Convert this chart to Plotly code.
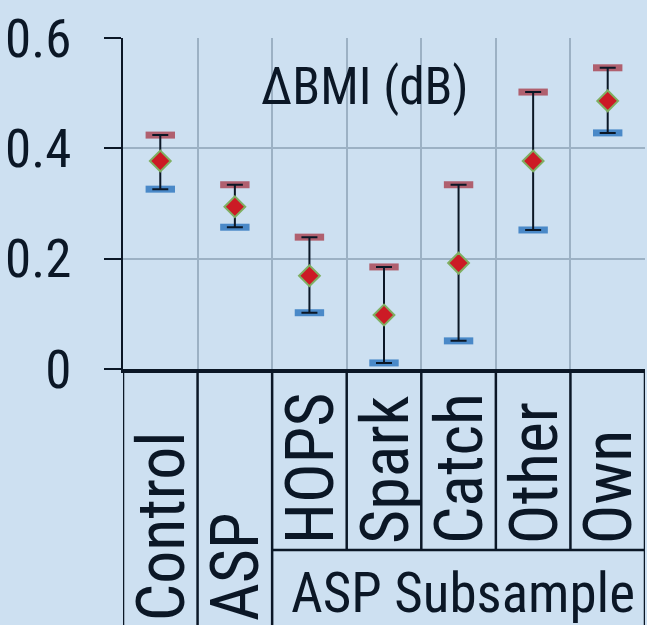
import plotly.graph_objects as go

categories = ["Control", "ASP", "HOPS", "Spark", "Catch", "Other", "Own"]
mean_vals = [0.377, 0.294, 0.169, 0.098, 0.192, 0.377, 0.486]
upper_vals = [0.424, 0.334, 0.239, 0.185, 0.334, 0.502, 0.546]
lower_vals = [0.326, 0.257, 0.102, 0.011, 0.051, 0.252, 0.428]
y_ticks = [0, 0.2, 0.4, 0.6]
y_tick_labels = ["0", "0.2", "0.4", "0.6"]
title_text = "ΔBMI (dB)"
group_label = "ASP Subsample"
n_main = 2  # Control, ASP not in subsample

BG = "#cde0f1"
DARK = "#0b1726"
GRID = "#9cb1c4"
FONT = "Liberation Sans Narrow, Arial Narrow, Roboto Condensed, Liberation Sans, sans-serif"

W, H = 647, 625
L, R, T, B = 123, 2, 38, 256
plot_h = H - T - B

def py(px):
    return (H - B - px) / plot_h

fig = go.Figure()

# cap background boxes
fig.add_trace(go.Scatter(
    x=categories, y=upper_vals, mode="markers",
    marker=dict(symbol="line-ew", size=21, line=dict(width=7, color="#b0606f")),
    hoverinfo="skip", showlegend=False))
fig.add_trace(go.Scatter(
    x=categories, y=lower_vals, mode="markers",
    marker=dict(symbol="line-ew", size=21, line=dict(width=7, color="#4a89c8")),
    hoverinfo="skip", showlegend=False))

# mean with error bars
fig.add_trace(go.Scatter(
    x=categories, y=mean_vals, mode="markers",
    error_y=dict(type="data", symmetric=False,
                 array=[u - m for u, m in zip(upper_vals, mean_vals)],
                 arrayminus=[m - l for m, l in zip(mean_vals, lower_vals)],
                 color=DARK, thickness=2, width=8),
    marker=dict(symbol="diamond", size=16, color="#cc1a25",
                line=dict(width=2, color="#7faf62")),
    showlegend=False))

shapes = []
# title background box over gridlines
shapes.append(dict(type="rect", xref="paper", yref="paper",
                   x0=(242 - L) / (W - L - R), x1=(490 - L) / (W - L - R),
                   y0=py(122), y1=py(40), fillcolor=BG, line=dict(width=0),
                   layer="between"))
# separators in the label area
n = len(categories)
for i in range(n + 1):
    xb = i - 0.5
    full = i <= n_main or i == n
    shapes.append(dict(type="line", xref="x", yref="paper",
                       x0=xb, x1=xb, y0=py(373), y1=py(625 if full else 550),
                       line=dict(color=DARK, width=2.5)))
shapes.append(dict(type="line", xref="x", yref="paper",
                   x0=n_main - 0.5, x1=n - 0.5, y0=py(550), y1=py(550),
                   line=dict(color=DARK, width=2.5)))

annotations = []
for i, c in enumerate(categories):
    bottom_px = 622 if i < n_main else 545
    annotations.append(dict(text=c, x=i, xref="x", y=py(bottom_px), yref="paper",
                            textangle=-90, xanchor="center", yanchor="bottom",
                            showarrow=False, xshift=1, borderpad=0,
                            font=dict(family=FONT, size=66, color=DARK)))
annotations.append(dict(text=group_label, xref="paper", x=(463 - L) / (W - L - R),
                        yref="paper", y=py(593), xanchor="center", yanchor="middle",
                        showarrow=False, borderpad=0,
                        font=dict(family=FONT, size=55, color=DARK)))
annotations.append(dict(text=title_text, xref="paper", x=(365 - L) / (W - L - R),
                        yref="paper", y=py(86), xanchor="center", yanchor="middle",
                        showarrow=False, font=dict(family=FONT, size=51, color=DARK)))

fig.update_layout(
    width=W, height=H,
    margin=dict(l=L, r=R, t=T, b=B, autoexpand=False),
    paper_bgcolor=BG, plot_bgcolor=BG,
    shapes=shapes, annotations=annotations,
    xaxis=dict(type="category", range=[-0.5, n - 0.5], tickson="boundaries",
               showgrid=True, gridcolor=GRID, gridwidth=2,
               showticklabels=False, ticks="", automargin=False,
               showline=True, linecolor=DARK, linewidth=4),
    yaxis=dict(range=[0, 0.6], tickvals=y_ticks, ticktext=y_tick_labels,
               showgrid=True, gridcolor=GRID, gridwidth=2, zeroline=False,
               showline=True, linecolor=DARK, linewidth=2, automargin=False,
               ticks="outside", ticklen=17, tickwidth=2, tickcolor=DARK,
               ticklabelstandoff=22,
               tickfont=dict(family=FONT, size=53, color=DARK)),
)

fig.write_html("out.html", config={"displayModeBar": False},
               post_script="document.body.style.margin='0';document.body.style.overflow='hidden';")
